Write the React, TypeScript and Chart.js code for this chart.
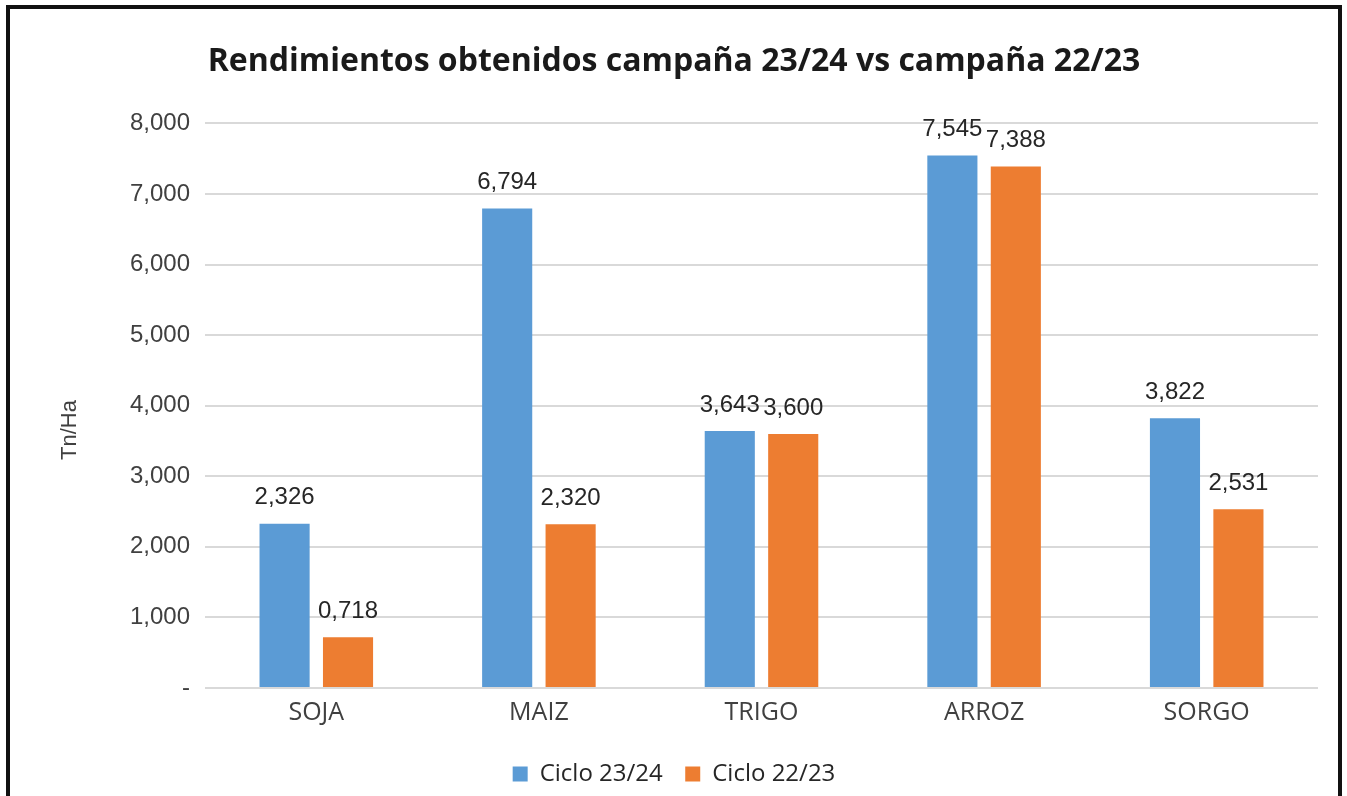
import React, { useEffect, useRef } from "react";
import { Chart, registerables } from "chart.js";

Chart.register(...registerables);

const categories = ["SOJA", "MAIZ", "TRIGO", "ARROZ", "SORGO"];
const ciclo2324 = [2.326, 6.794, 3.643, 7.545, 3.822];
const ciclo2223 = [0.718, 2.32, 3.6, 7.388, 2.531];
const seriesNames = ["Ciclo 23/24", "Ciclo 22/23"];
const titleText = "Rendimientos obtenidos campaña 23/24 vs campaña 22/23";
const yTitle = "Tn/Ha";

const fmt = (v: number) => (v === 0 ? "-" : v.toFixed(3).replace(".", ","));

const labelPlugin = {
  id: "barLabels",
  afterDatasetsDraw(chart: any) {
    const ctx = chart.ctx;
    ctx.save();
    ctx.font = "24px 'Liberation Sans'";
    ctx.fillStyle = "#262626";
    ctx.textAlign = "center";
    ctx.textBaseline = "middle";
    chart.data.datasets.forEach((ds: any, di: number) => {
      const meta = chart.getDatasetMeta(di);
      meta.data.forEach((bar: any, i: number) => {
        ctx.fillText(fmt(ds.data[i]), bar.x, bar.y - 26);
      });
    });
    // y axis title
    ctx.font = "22px 'Liberation Sans'";
    ctx.fillStyle = "#404040";
    ctx.translate(70, 430);
    ctx.rotate(-Math.PI / 2);
    ctx.fillText(yTitle, 0, 0);
    ctx.restore();
  },
};

export default function App() {
  const ref = useRef<HTMLCanvasElement>(null);
  useEffect(() => {
    document.body.style.margin = "0";
    document.body.style.background = "#fff";
    const chart = new Chart(ref.current!, {
      type: "bar",
      data: {
        labels: categories,
        datasets: [
          {
            label: seriesNames[0],
            data: ciclo2324,
            backgroundColor: "#5B9BD5",
            categoryPercentage: 0.57,
            barPercentage: 0.79,
          },
          {
            label: seriesNames[1],
            data: ciclo2223,
            backgroundColor: "#ED7D31",
            categoryPercentage: 0.57,
            barPercentage: 0.79,
          },
        ],
      },
      options: {
        responsive: false,
        animation: false,
        layout: { padding: { left: 30, right: 29, top: 0, bottom: 0 } },
        plugins: {
          title: {
            display: true,
            text: titleText,
            color: "#1a1a1a",
            font: { family: "'Open Sans'", size: 32, weight: "bold" },
            padding: { top: 43, bottom: 42 },
          },
          legend: {
            position: "bottom",
            labels: {
              boxWidth: 15,
              boxHeight: 15,
              color: "#262626",
              font: { family: "'Open Sans'", size: 24 },
              padding: 10,
              generateLabels: (chart: any) => {
                const items = Chart.defaults.plugins.legend.labels.generateLabels(chart);
                return items.map((it: any, i: number) =>
                  i < items.length - 1 ? { ...it, text: it.text + "  " } : it
                );
              },
            },
          },
          tooltip: { enabled: false },
        },
        scales: {
          x: {
            grid: { display: false },
            border: { display: false },
            ticks: {
              color: "#404040",
              font: { family: "'Open Sans'", size: 25 },
              padding: 2,
            },
            afterFit: (s: any) => {
              s.height = 64;
            },
          },
          y: {
            min: 0,
            max: 8,
            grid: { color: "#D9D9D9", lineWidth: 2, drawTicks: false },
            border: { display: false },
            ticks: {
              stepSize: 1,
              color: "#404040",
              font: { family: "'Liberation Sans'", size: 24 },
              padding: 15,
              callback: (v: any) => fmt(Number(v)),
            },
            afterFit: (s: any) => {
              s.width = 175;
            },
          },
        },
      },
      plugins: [labelPlugin],
    });
    return () => chart.destroy();
  }, []);
  return (
    <div style={{ position: "relative", width: 1347, height: 796, overflow: "hidden", background: "#fff" }}>
      <div
        style={{
          position: "absolute",
          left: 6,
          top: 5,
          width: 1336,
          height: 900,
          border: "4px solid #111",
          boxSizing: "border-box",
        }}
      />
      <canvas ref={ref} width={1347} height={796} style={{ position: "absolute", left: 0, top: 0 }} />
    </div>
  );
}
